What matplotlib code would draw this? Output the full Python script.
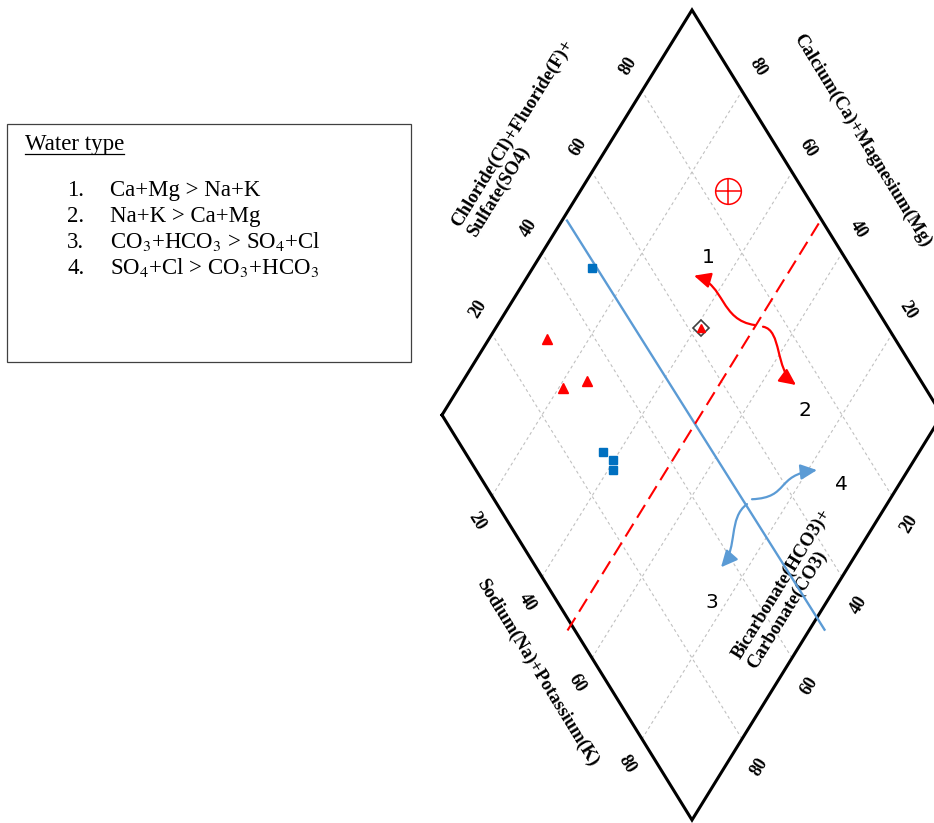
import numpy as np
import matplotlib
matplotlib.use("Agg")
import matplotlib.pyplot as plt
from matplotlib.patches import FancyArrowPatch, Rectangle
from matplotlib.path import Path
from matplotlib.lines import Line2D

plt.rcParams['mathtext.fontset'] = 'stix'

# diamond half height (half width = 1)
H = 1.62
ANG = np.degrees(np.arctan(H))

# samples as (Cl+F+SO4 %, Ca+Mg %)
circle_so4cl = [84.8]
circle_camg = [70.6]
diam_so4cl = [62.4]
diam_camg = [59.0]
tri_so4cl = [30.3, 27.6, 33.2]
tri_camg = [88.4, 79.1, 75.3]
sq_so4cl = [48.1, 27.7, 28.6, 27.4]
sq_camg = [88.2, 63.2, 60.3, 59.1]

ticks = [20, 40, 60, 80]

# division lines
anion_split = 49      # constant SO4+Cl (blue)
cation_split = 48.3   # constant Ca+Mg (red dashed)

# zone labels and the curved arrows, same (SO4+Cl, Ca+Mg) units
zone_names = ["1", "2", "3", "4"]
zone_so4cl = [72.7, 73.2, 30.9, 71.2]
zone_camg = [66.3, 28.0, 22.9, 11.6]
arrow_red = [[(73.7, 48.5), (67.3, 56.1), (72.7, 59.5), (67.6, 66.8)],
             [(75.1, 46.7), (78.5, 42.5), (72.2, 39.0), (74.5, 32.9)]]
arrow_blue = [[(50.0, 28.0), (44.5, 30.1), (42.8, 24.4), (37.0, 25.4)],
              [(51.6, 27.6), (59.4, 20.2), (59.2, 26.0), (68.2, 18.2)]]

legend_title = "Water type"
legend_items = ["Ca+Mg > Na+K", "Na+K > Ca+Mg",
                r"CO$_3$+HCO$_3$ > SO$_4$+Cl", r"SO$_4$+Cl > CO$_3$+HCO$_3$"]


def to_xy(s, c):
    a = np.asarray(s, dtype=float) / 100
    b = (100 - np.asarray(c, dtype=float)) / 100
    return a + b, H * (a - b)


fig = plt.figure(figsize=(9.34, 8.23), dpi=100)
ax = fig.add_axes([0, 0, 1, 1])
ax.set_xlim(-1.768, 1.968)
ax.set_ylim(-1.632, 1.66)
ax.axis('off')

# grid
for v in ticks:
    x, y = to_xy([v, v], [0, 100])
    ax.plot(x, y, color='#c0c0c0', lw=0.8, dashes=(2.7, 2.7), zorder=1)
    x, y = to_xy([0, 100], [v, v])
    ax.plot(x, y, color='#c0c0c0', lw=0.8, dashes=(2.7, 2.7), zorder=1)

# outline
x, y = to_xy([0, 100, 100, 0, 0], [100, 100, 0, 0, 100])
ax.plot(x, y, color='black', lw=2.2, zorder=3, solid_joinstyle='miter')

# tick labels
tk = dict(fontsize=13, fontweight='bold', family='Liberation Serif',
          ha='center', va='center', rotation_mode='anchor')
for v in ticks:
    x, y = to_xy(v, 100)
    ax.text(x - 0.054, y + 0.098, str(v), rotation=ANG, **tk)
    x, y = to_xy(100, v)
    ax.text(x + 0.064, y + 0.096, str(v), rotation=-ANG, **tk)
    x, y = to_xy(0, 100 - v)
    ax.text(x - 0.06, y - 0.1, str(v), rotation=-ANG, **tk)
    x, y = to_xy(100 - v, 0)
    ax.text(x + 0.068, y - 0.114, str(v), rotation=ANG, **tk)

tt = dict(fontsize=13.5, fontweight='bold', family='Liberation Serif',
          ha='center', va='center', rotation_mode='anchor', multialignment='left',
          linespacing=1.05)
ax.text(0.315, 1.107, "Chloride(Cl)+Fluoride(F)+\nSulfate(SO4)", rotation=ANG, **tt)
ax.text(1.682, 1.10, "Calcium(Ca)+Magnesium(Mg)", rotation=-ANG, **tt)
ax.text(0.382, -1.032, "Sodium(Na)+Potassium(K)", rotation=-ANG, **tt)
ax.text(1.39, -0.696, "Bicarbonate(HCO3)+\nCarbonate(CO3)", rotation=ANG, **tt)

# division lines
x, y = to_xy([anion_split, anion_split + 1], [99, -3])
ax.plot(x, y, color='#5b9bd5', lw=1.7, zorder=4)
x, y = to_xy([-1.5, 99], [cation_split, cation_split])
ax.plot(x, y, color='red', lw=1.5, dashes=(7.2, 3.4), zorder=4)

# samples
x, y = to_xy(circle_so4cl, circle_camg)
ax.plot(x, y, 'o', ms=18.5, mfc='none', mec='red', mew=1.1, zorder=5)
ax.plot(x, y, '+', ms=18.5, mec='red', mew=1.1, zorder=5)
x, y = to_xy(diam_so4cl, diam_camg)
ax.plot(x, y, 'D', ms=8, mfc='white', mec='#404040', mew=1.2, zorder=5)
ax.plot(x, y, '^', ms=6, color='red', zorder=6)
x, y = to_xy(tri_so4cl, tri_camg)
ax.plot(x, y, '^', ms=7.5, color='red', lw=0, zorder=5)
x, y = to_xy(sq_so4cl, sq_camg)
ax.plot(x, y, 's', ms=5.8, color='#0070c0', lw=0, zorder=5)

# zone numbers
for name, s, c in zip(zone_names, zone_so4cl, zone_camg):
    x, y = to_xy(s, c)
    ax.text(x, y, name, fontsize=14.5, ha='center', va='center', family='DejaVu Sans')

codes = [Path.MOVETO, Path.CURVE4, Path.CURVE4, Path.CURVE4]
for pts_list, col in [(arrow_red, 'red'), (arrow_blue, '#5b9bd5')]:
    for pts in pts_list:
        xs, ys = to_xy([p[0] for p in pts], [p[1] for p in pts])
        arr = FancyArrowPatch(path=Path(np.column_stack([xs, ys]), codes),
                              arrowstyle='-|>,head_length=0.55,head_width=0.26',
                              mutation_scale=18, color=col, lw=1.6, zorder=6)
        ax.add_patch(arr)

# legend box
fig.patches.append(Rectangle((7 / 934, 1 - 362 / 823), 404 / 934, 238 / 823,
                             transform=fig.transFigure, fill=False,
                             edgecolor='#404040', lw=0.9))
ttl = fig.text(25 / 934, 1 - 150 / 823, legend_title, fontsize=16.5,
               family='Liberation Serif', va='baseline', ha='left')
fig.canvas.draw()
bb = ttl.get_window_extent()
uy = 823 - 153.5
fig.lines.append(Line2D([bb.x0 / 934, bb.x1 / 934], [uy / 823, uy / 823],
                        transform=fig.transFigure, color='black', lw=0.9))
row_y = [196, 222, 248, 274]
for i, (item, ry) in enumerate(zip(legend_items, row_y)):
    fig.text(67 / 934, 1 - ry / 823, f"{i + 1}.", fontsize=16.5,
             family='Liberation Serif', va='baseline', ha='left')
    fig.text(110 / 934, 1 - ry / 823, item, fontsize=16.5,
             family='Liberation Serif', va='baseline', ha='left')

fig.savefig("out.png", dpi=100)
